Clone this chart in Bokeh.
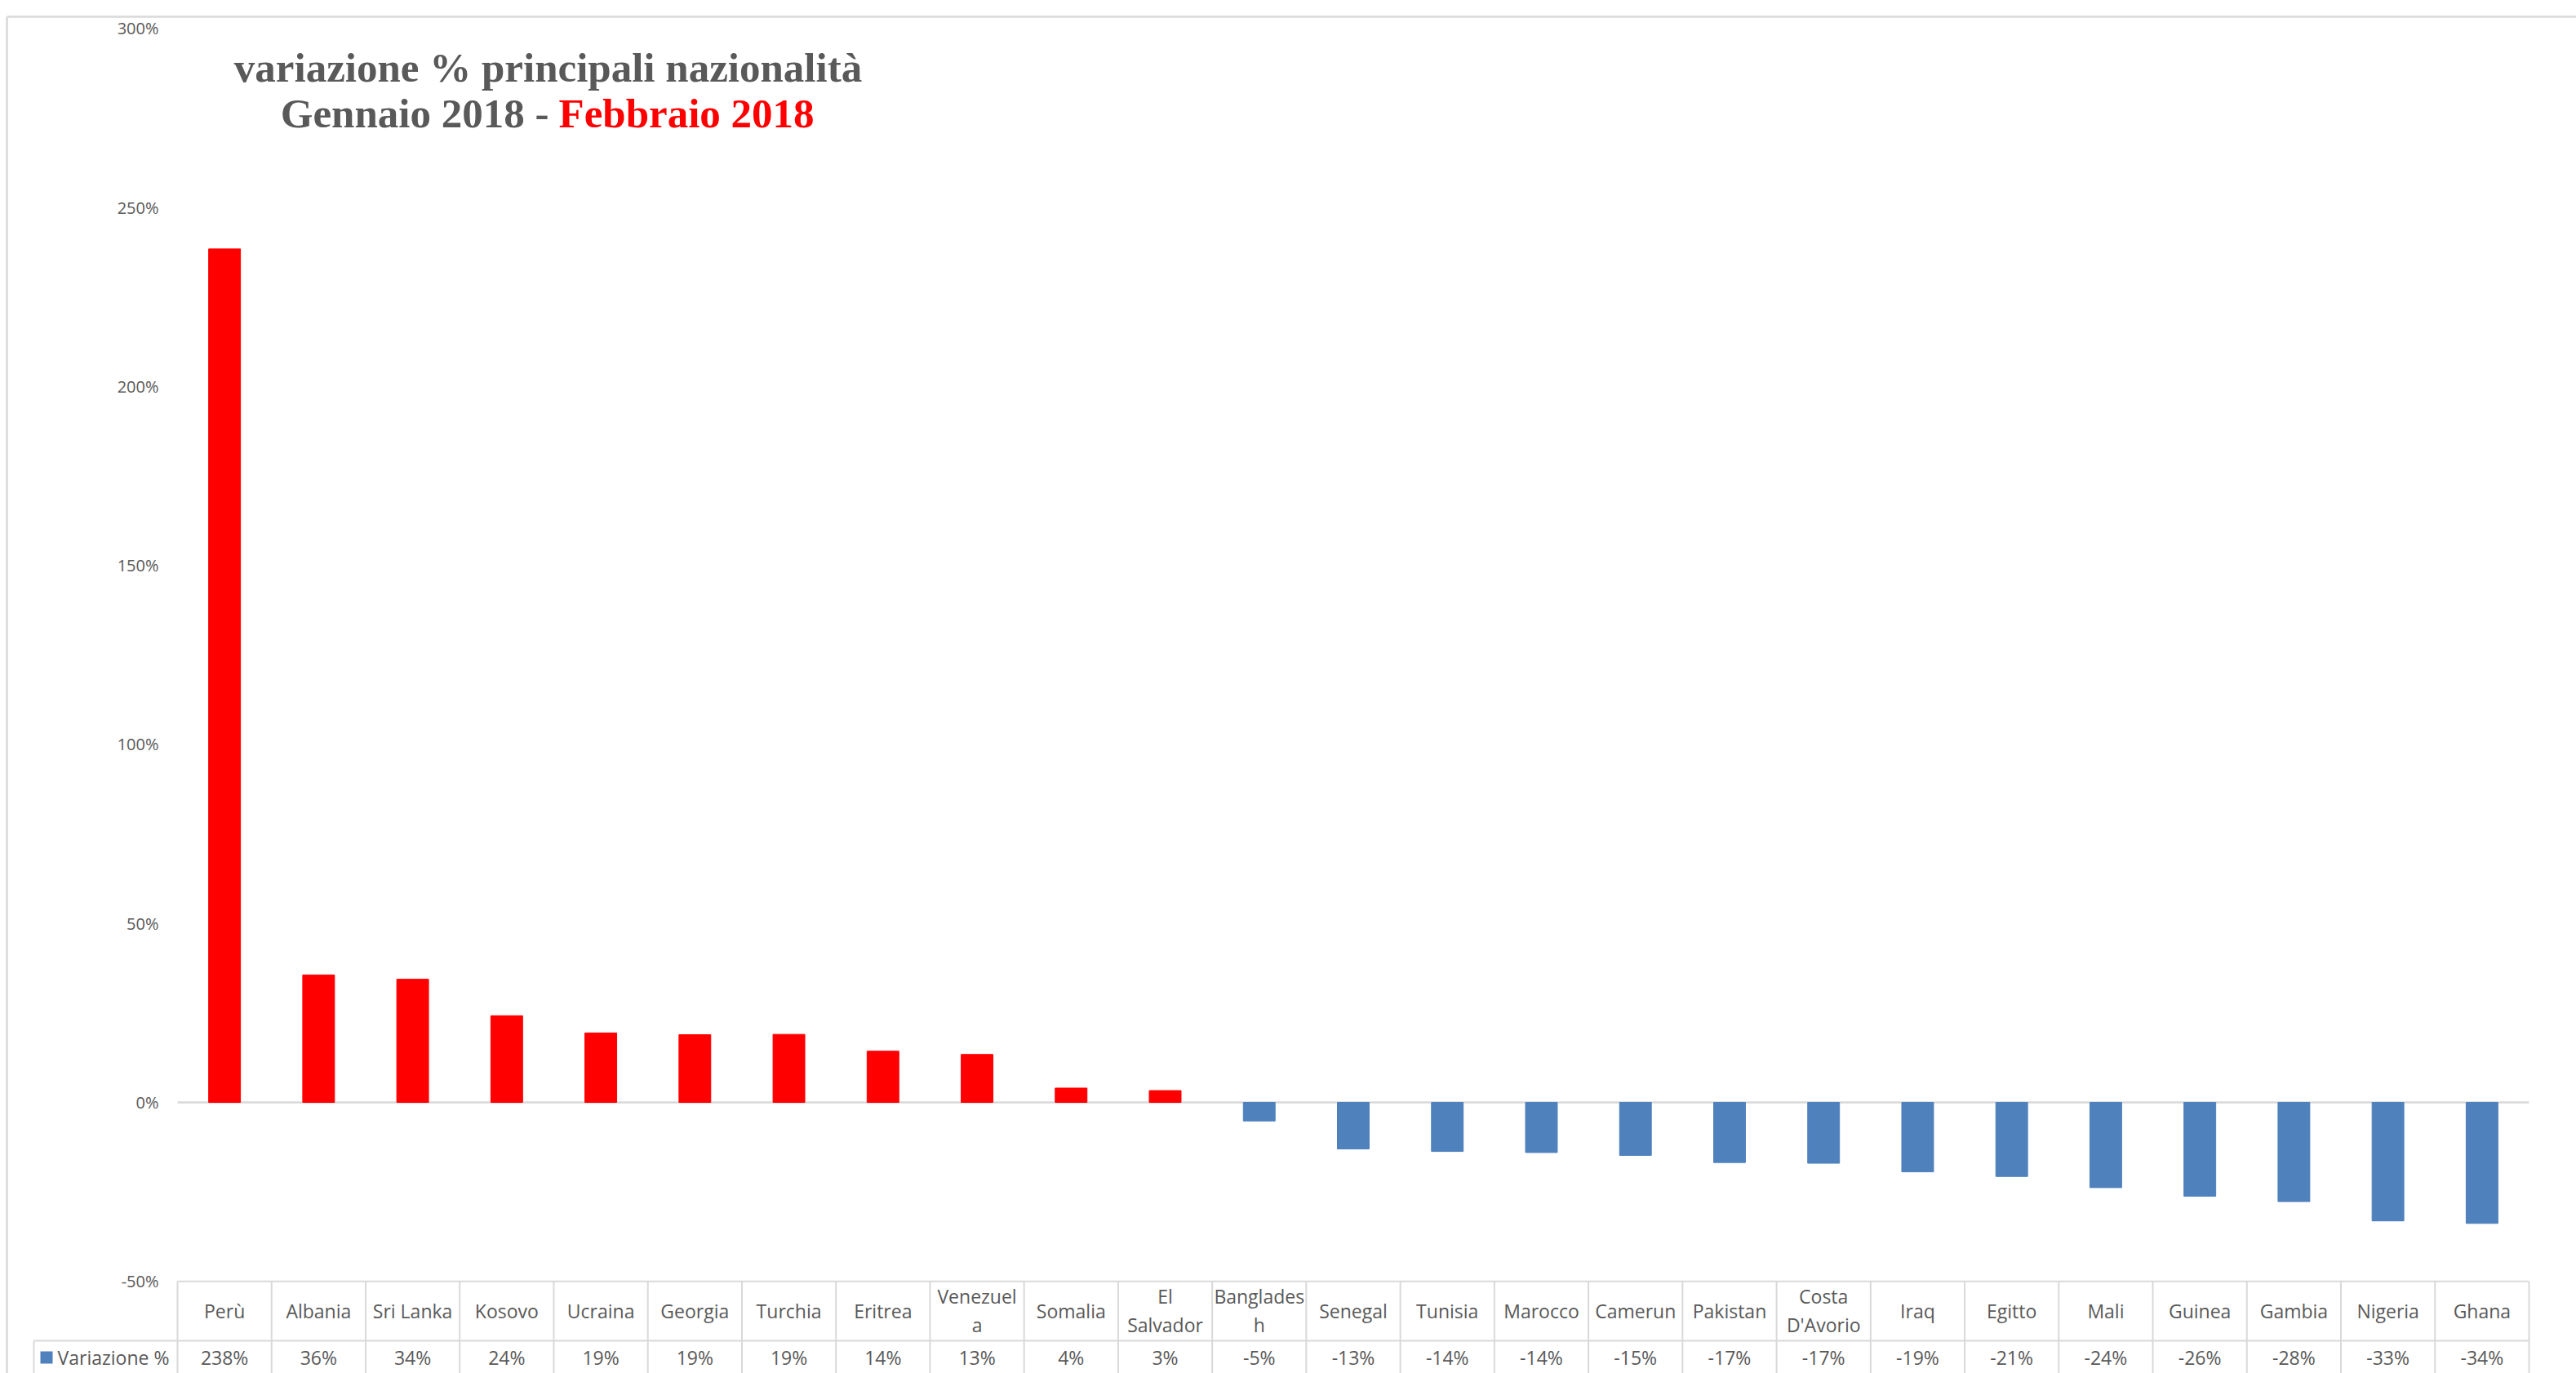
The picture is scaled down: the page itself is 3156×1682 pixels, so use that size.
from bokeh.plotting import figure
from bokeh.models import Range1d, FixedTicker, NumeralTickFormatter, Label, ColumnDataSource
from bokeh.core.properties import value
from bokeh.embed import file_html
from bokeh.resources import INLINE

# ---------------- data ----------------
categories = ["Perù", "Albania", "Sri Lanka", "Kosovo", "Ucraina", "Georgia", "Turchia",
              "Eritrea", "Venezuela", "Somalia", "El Salvador", "Bangladesh", "Senegal",
              "Tunisia", "Marocco", "Camerun", "Pakistan", "Costa D'Avorio", "Iraq",
              "Egitto", "Mali", "Guinea", "Gambia", "Nigeria", "Ghana"]
header_labels = ["Perù", "Albania", "Sri Lanka", "Kosovo", "Ucraina", "Georgia", "Turchia",
                 "Eritrea", "Venezuel\na", "Somalia", "El\nSalvador", "Banglades\nh", "Senegal",
                 "Tunisia", "Marocco", "Camerun", "Pakistan", "Costa\nD'Avorio", "Iraq",
                 "Egitto", "Mali", "Guinea", "Gambia", "Nigeria", "Ghana"]
variazione = [2.384, 0.356, 0.344, 0.242, 0.194, 0.189, 0.19, 0.143, 0.134, 0.04, 0.033,
              -0.052, -0.13, -0.137, -0.14, -0.148, -0.168, -0.17, -0.194, -0.207,
              -0.238, -0.262, -0.277, -0.331, -0.338]
y_ticks = [-0.5, 0, 0.5, 1.0, 1.5, 2.0, 2.5, 3.0]
series_name = "Variazione %"
title_line1 = "variazione % principali nazionalità"
title_line2a = "Gennaio 2018 -"
title_line2b = "Febbraio 2018"

# ---------------- layout constants (page pixels) ----------------
W, H = 3156, 1682
COL0_L, COLN_R = 217, 3098      # table / category area
ZERO_Y = 1350                   # pixel of 0%
PPU = 438.6                     # pixels per 100%
N = len(categories)
COLW = (COLN_R - COL0_L) / N

def px2x(fx):
    return (fx - COL0_L) / COLW

def py2y(fy):
    return (ZERO_Y - fy) / PPU

GRAY = "#595959"
GRID = "#d9d9d9"
RED = "#FF0000"
BLUE = "#4F81BD"
FONT = "Open Sans"
SERIF = "Liberation Serif"

p = figure(width=W, height=H, output_backend="svg", toolbar_location=None, tools="",
           title=None, x_axis_location=None,
           x_range=Range1d(px2x(0), px2x(W)),
           y_range=Range1d(py2y(H), py2y(0)),
           min_border_left=0, min_border_right=0, min_border_top=0, min_border_bottom=0)
p.outline_line_color = None
p.background_fill_color = "white"
p.border_fill_color = "white"
p.xgrid.grid_line_color = None
p.ygrid.grid_line_color = None

# y axis (labels drawn over the plot area at the left)
ax = p.yaxis[0]
ax.ticker = FixedTicker(ticks=y_ticks)
ax.formatter = NumeralTickFormatter(format="0%")
ax.axis_line_color = None
ax.major_tick_line_color = None
ax.minor_tick_line_color = None
ax.major_tick_out = 0
ax.major_tick_in = 0
ax.major_label_standoff = -194
ax.major_label_text_font = FONT
ax.major_label_text_font_size = "20px"
ax.major_label_text_color = GRAY

# outer chart border (top + left)
p.segment(x0=[px2x(8), px2x(8)], x1=[px2x(8), px2x(W + 10)],
          y0=[py2y(20), py2y(20)], y1=[py2y(H + 10), py2y(20)],
          line_color=GRID, line_width=2.5)

# zero line
xs_cols = list(range(N + 1))
p.segment(x0=[0], x1=[N], y0=[0], y1=[0], line_color=GRID, line_width=2.5)

# bars
colors = [RED if v >= 0 else BLUE for v in variazione]
xc = [i + 0.5 for i in range(N)]
src = ColumnDataSource(dict(x=xc, cat=categories, val=variazione, color=colors))
p.vbar(x="x", top="val", bottom=0, width=0.338, color="color", source=src)

# data table
row1_top = y_ticks[0]
row_div = py2y(1642)
table_bottom = py2y(H + 40)
legend_left = px2x(41)
p.segment(x0=[0, legend_left], x1=[N, N], y0=[row1_top, row_div], y1=[row1_top, row_div],
          line_color=GRID, line_width=2)
p.segment(x0=xs_cols + [legend_left], x1=xs_cols + [legend_left],
          y0=[row1_top] * (N + 1) + [row_div], y1=[table_bottom] * (N + 2),
          line_color=GRID, line_width=2)

# legend key + series name
p.quad(left=[px2x(49)], right=[px2x(64)], top=[py2y(1655)], bottom=[py2y(1670)],
       fill_color=BLUE, line_color=None)
p.text(x=[px2x(70)], y=[py2y(1662)], text=[series_name], text_font=value(FONT),
       text_font_size="23px", text_color=GRAY, text_align="left", text_baseline="middle")

p.text(x=xc, y=[py2y(1605)] * N, text=header_labels, text_font=value(FONT),
       text_font_size="23px", text_color=GRAY, text_align="center",
       text_baseline="middle", text_line_height=1.1)
value_labels = [f"{round(v * 100):.0f}%" for v in variazione]
p.text(x=xc, y=[py2y(1662)] * N, text=value_labels, text_font=value(FONT),
       text_font_size="23px", text_color=GRAY, text_align="center",
       text_baseline="middle")

# title
p.add_layout(Label(x=px2x(671), y=py2y(82), text=title_line1, text_font=SERIF,
                   text_font_size="51px", text_font_style="bold", text_color=GRAY,
                   text_align="center", text_baseline="alphabetic"))
p.add_layout(Label(x=px2x(672), y=py2y(138), text=title_line2a, text_font=SERIF,
                   text_font_size="51px", text_font_style="bold", text_color=GRAY,
                   text_align="right", text_baseline="alphabetic"))
p.add_layout(Label(x=px2x(684), y=py2y(138), text=title_line2b, text_font=SERIF,
                   text_font_size="51px", text_font_style="bold", text_color=RED,
                   text_align="left", text_baseline="alphabetic"))

open("out.html", "w").write(file_html(p, INLINE))
